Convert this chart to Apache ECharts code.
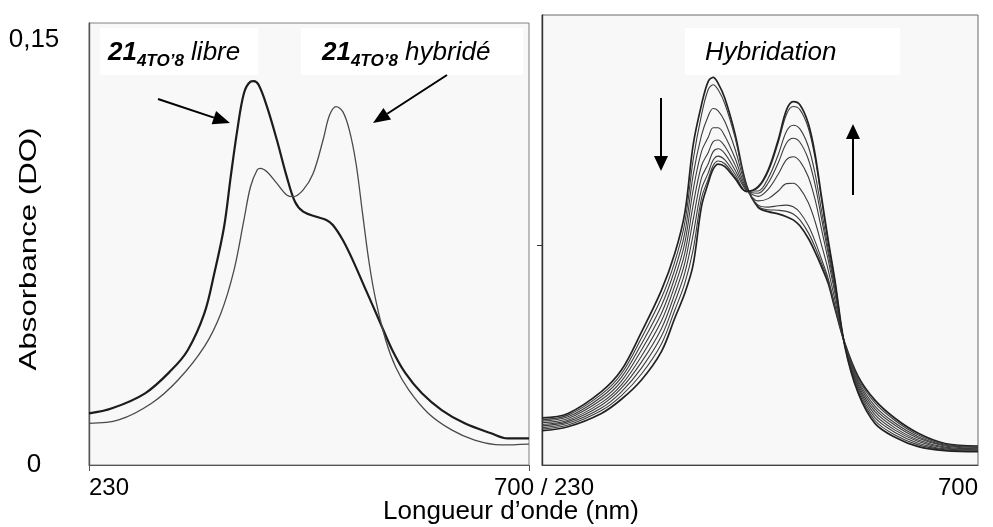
<!DOCTYPE html>
<html lang="fr">
<head>
<meta charset="UTF-8">
<title>Spectres UV-visible 21 4TO'8</title>
<script src="https://cdn.jsdelivr.net/npm/echarts@6/dist/echarts.min.js"></script>
<style>
    html, body { margin: 0; padding: 0; background: #fff; }
    #chart { width: 993px; height: 527px; }
</style>
</head>
<body>
<div id="chart"></div>
<script>
// graduations
var xTicks = [230, 700];
var yTicks = [0, 0.15];

// panneau gauche : 21 4TO'8 libre
var libreNm = [230.0, 254.6, 289.9, 318.0, 335.6, 353.2, 363.8, 374.3, 381.4, 388.4, 395.5, 402.5, 406.0, 411.3, 420.1, 430.7, 441.2, 450.0, 458.8, 472.9, 483.5, 490.5, 501.1, 511.6, 525.7, 539.8, 553.9, 568.0, 585.6, 606.7, 631.3, 659.5, 677.1, 700.0];
var libreAbs = [0.0182, 0.0200, 0.0253, 0.0335, 0.0406, 0.0535, 0.0676, 0.0841, 0.1018, 0.1182, 0.1312, 0.1353, 0.1355, 0.1341, 0.1265, 0.1147, 0.1018, 0.0929, 0.0894, 0.0876, 0.0865, 0.0847, 0.0794, 0.0724, 0.0618, 0.0512, 0.0406, 0.0324, 0.0253, 0.0194, 0.0147, 0.0112, 0.0094, 0.0094];

// panneau gauche : 21 4TO'8 hybridé
var hybNm = [230.0, 261.7, 296.9, 325.1, 353.2, 370.8, 384.9, 395.5, 402.5, 409.6, 413.1, 420.1, 430.7, 441.2, 448.3, 458.8, 469.4, 480.0, 487.0, 494.0, 501.1, 508.1, 515.2, 522.2, 529.3, 536.3, 546.9, 557.4, 571.5, 592.6, 617.3, 641.9, 670.1, 700.0];
var hybAbs = [0.0147, 0.0159, 0.0218, 0.0300, 0.0418, 0.0535, 0.0688, 0.0865, 0.0982, 0.1041, 0.1047, 0.1035, 0.0994, 0.0953, 0.0947, 0.0971, 0.1029, 0.1147, 0.1235, 0.1265, 0.1247, 0.1182, 0.1065, 0.0888, 0.0712, 0.0582, 0.0441, 0.0347, 0.0265, 0.0182, 0.0124, 0.0088, 0.0071, 0.0074];

// panneau droit : suivi de l'hybridation (9 spectres)
var titrNm = [230, 258.0, 294.0, 315.6, 337.2, 358.7, 373.1, 383.9, 392.9, 401.9, 409.1, 414.5, 419.9, 427.1, 437.9, 450.4, 463.0, 473.8, 484.6, 493.6, 500.8, 508.0, 517.0, 524.2, 531.3, 538.5, 545.7, 556.5, 570.9, 588.9, 610.5, 635.6, 664.4, 700];
var spectre1 = [0.0166, 0.0182, 0.0259, 0.0335, 0.0469, 0.0616, 0.0746, 0.0889, 0.1129, 0.1271, 0.1353, 0.1368, 0.1347, 0.1294, 0.1171, 0.0988, 0.0909, 0.0894, 0.0886, 0.0876, 0.0865, 0.0844, 0.0800, 0.0753, 0.0700, 0.0641, 0.0553, 0.0429, 0.0312, 0.0229, 0.0165, 0.0112, 0.0076, 0.0067];
var spectre2 = [0.0160, 0.0176, 0.0249, 0.0322, 0.0448, 0.0589, 0.0717, 0.0854, 0.1076, 0.1235, 0.1324, 0.1342, 0.1324, 0.1275, 0.1158, 0.0986, 0.0913, 0.0901, 0.0899, 0.0895, 0.0886, 0.0865, 0.0820, 0.0770, 0.0712, 0.0649, 0.0558, 0.0428, 0.0305, 0.0219, 0.0157, 0.0106, 0.0073, 0.0064];
var spectre3 = [0.0155, 0.0170, 0.0240, 0.0309, 0.0427, 0.0562, 0.0689, 0.0818, 0.1023, 0.1163, 0.1231, 0.1258, 0.1250, 0.1212, 0.1117, 0.0980, 0.0917, 0.0910, 0.0915, 0.0917, 0.0911, 0.0891, 0.0845, 0.0791, 0.0727, 0.0658, 0.0564, 0.0426, 0.0297, 0.0208, 0.0148, 0.0100, 0.0070, 0.0062];
var spectre4 = [0.0149, 0.0164, 0.0230, 0.0296, 0.0406, 0.0535, 0.0660, 0.0783, 0.0970, 0.1106, 0.1156, 0.1190, 0.1190, 0.1161, 0.1084, 0.0975, 0.0932, 0.0940, 0.0967, 0.0993, 0.0994, 0.0976, 0.0926, 0.0861, 0.0777, 0.0688, 0.0584, 0.0425, 0.0290, 0.0198, 0.0140, 0.0094, 0.0067, 0.0059];
var spectre5 = [0.0143, 0.0158, 0.0220, 0.0283, 0.0384, 0.0508, 0.0632, 0.0747, 0.0917, 0.1056, 0.1102, 0.1141, 0.1147, 0.1125, 0.1060, 0.0972, 0.0948, 0.0973, 0.1026, 0.1078, 0.1088, 0.1072, 0.1017, 0.0939, 0.0832, 0.0723, 0.0607, 0.0423, 0.0282, 0.0188, 0.0131, 0.0088, 0.0063, 0.0057];
var spectre6 = [0.0138, 0.0153, 0.0211, 0.0271, 0.0363, 0.0481, 0.0603, 0.0712, 0.0865, 0.1013, 0.1062, 0.1106, 0.1116, 0.1099, 0.1042, 0.0969, 0.0959, 0.0995, 0.1066, 0.1136, 0.1153, 0.1139, 0.1080, 0.0992, 0.0870, 0.0747, 0.0622, 0.0422, 0.0275, 0.0178, 0.0123, 0.0083, 0.0060, 0.0054];
var spectre7 = [0.0132, 0.0147, 0.0201, 0.0258, 0.0342, 0.0454, 0.0575, 0.0677, 0.0812, 0.0973, 0.1030, 0.1076, 0.1090, 0.1077, 0.1028, 0.0967, 0.0967, 0.1012, 0.1095, 0.1178, 0.1199, 0.1186, 0.1125, 0.1031, 0.0898, 0.0763, 0.0633, 0.0421, 0.0268, 0.0167, 0.0115, 0.0077, 0.0057, 0.0052];
var spectre8 = [0.0127, 0.0141, 0.0192, 0.0245, 0.0321, 0.0427, 0.0546, 0.0641, 0.0759, 0.0941, 0.1008, 0.1057, 0.1073, 0.1063, 0.1018, 0.0966, 0.0979, 0.1035, 0.1137, 0.1238, 0.1265, 0.1254, 0.1190, 0.1086, 0.0937, 0.0788, 0.0649, 0.0419, 0.0260, 0.0157, 0.0106, 0.0071, 0.0054, 0.0049];
var spectre9 = [0.0121, 0.0135, 0.0182, 0.0232, 0.0300, 0.0400, 0.0518, 0.0606, 0.0706, 0.0912, 0.0994, 0.1044, 0.1062, 0.1053, 0.1012, 0.0965, 0.0982, 0.1041, 0.1147, 0.1253, 0.1282, 0.1271, 0.1206, 0.1100, 0.0947, 0.0794, 0.0653, 0.0418, 0.0253, 0.0147, 0.0098, 0.0065, 0.0051, 0.0047];

var spectres = [spectre1, spectre2, spectre3, spectre4, spectre5, spectre6, spectre7, spectre8, spectre9];

var police = 'Liberation Sans, Arial, sans-serif';

function paires(xs, ys) {
    var out = [];
    for (var i = 0; i < xs.length; i++) {
        out.push([xs[i], ys[i]]);
    }
    return out;
}

// fleche = trait + triangle plein
function fleche(x1, y1, x2, y2, tete, demi) {
    var dx = x2 - x1, dy = y2 - y1;
    var len = Math.sqrt(dx * dx + dy * dy);
    var ux = dx / len, uy = dy / len;
    var bx = x2 - ux * tete, by = y2 - uy * tete;
    return [
        {type: 'line', z: 100, shape: {x1: x1, y1: y1, x2: bx, y2: by}, style: {stroke: '#000', lineWidth: 2}},
        {type: 'polygon', z: 100, shape: {points: [[x2, y2], [bx - uy * demi, by + ux * demi], [bx + uy * demi, by - ux * demi]]}, style: {fill: '#000'}}
    ];
}

var richTitre = {
    n: {fontSize: 26, fontWeight: 'bold', fontStyle: 'italic', fontFamily: police, lineHeight: 34},
    s: {fontSize: 17, fontWeight: 'bold', fontStyle: 'italic', fontFamily: police, lineHeight: 17, verticalAlign: 'bottom'},
    t: {fontSize: 26, fontStyle: 'italic', fontFamily: police, lineHeight: 34}
};

var series = [
    {
        name: '21 4TO\'8 libre', type: 'line', xAxisIndex: 0, yAxisIndex: 0,
        data: paires(libreNm, libreAbs), smooth: 0.35, showSymbol: false,
        lineStyle: {color: '#1c1c1c', width: 2.2}
    },
    {
        name: '21 4TO\'8 hybridé', type: 'line', xAxisIndex: 0, yAxisIndex: 0,
        data: paires(hybNm, hybAbs), smooth: 0.35, showSymbol: false,
        lineStyle: {color: '#4a4a4a', width: 1.3}
    }
];
for (var k = 0; k < spectres.length; k++) {
    var bord = (k === 0 || k === spectres.length - 1);
    series.push({
        name: 'Spectre ' + (k + 1), type: 'line', xAxisIndex: 1, yAxisIndex: 1,
        data: paires(titrNm, spectres[k]), smooth: 0.35, showSymbol: false,
        lineStyle: {color: bord ? '#222' : '#3c3c3c', width: bord ? 1.7 : 1.1}
    });
}

var graphics = [
    // cadres blancs des annotations
    {type: 'rect', z: 90, shape: {x: 100, y: 28, width: 158, height: 47}, style: {fill: '#fff'}},
    {type: 'rect', z: 90, shape: {x: 301, y: 28, width: 222, height: 47}, style: {fill: '#fff'}},
    {type: 'rect', z: 90, shape: {x: 685, y: 28, width: 215, height: 47}, style: {fill: '#fff'}},
    {type: 'text', z: 100, x: 108, y: 53, style: {text: '{n|21}{s|4TO’8}{t| libre}', rich: richTitre, fill: '#000', verticalAlign: 'middle'}},
    {type: 'text', z: 100, x: 322, y: 53, style: {text: '{n|21}{s|4TO’8}{t| hybridé}', rich: richTitre, fill: '#000', verticalAlign: 'middle'}},
    {type: 'text', z: 100, x: 705, y: 53, style: {text: 'Hybridation', font: 'italic 26px ' + police, fill: '#000', verticalAlign: 'middle'}},
    // titres des axes
    {type: 'text', z: 100, x: 511, y: 512, style: {text: 'Longueur d’onde (nm)', font: '26px ' + police, fill: '#000', align: 'center', verticalAlign: 'middle'}},
    {type: 'text', z: 100, x: 29, y: 249, rotation: Math.PI / 2, scaleX: 1.3, style: {text: 'Absorbance (DO)', font: '24px ' + police, fill: '#000', align: 'center', verticalAlign: 'middle'}}
];
graphics = graphics
    .concat(fleche(158, 99, 230, 123, 17, 7))
    .concat(fleche(447, 75, 373, 123, 17, 7))
    .concat(fleche(661, 98, 661, 171, 15, 7))
    .concat(fleche(853, 195, 853, 124, 15, 7));

var option = {
    animation: false,
    backgroundColor: '#fff',
    grid: [
        {left: 89, top: 23, width: 440, bottom: 62, show: true, backgroundColor: '#f8f8f8', borderColor: '#808080', borderWidth: 1, containLabel: false, outerBoundsMode: 'none'},
        {left: 542, top: 15, width: 436, bottom: 62, show: true, backgroundColor: '#f8f8f8', borderColor: '#6a6a6a', borderWidth: 1, containLabel: false, outerBoundsMode: 'none'}
    ],
    xAxis: [
        {
            type: 'value', gridIndex: 0, min: 230, max: 700,
            splitLine: {show: false},
            axisLine: {show: true, lineStyle: {color: '#555', width: 1.2}},
            axisTick: {show: true, customValues: xTicks, length: 6, lineStyle: {color: '#555'}},
            axisLabel: {
                customValues: xTicks, margin: 11, fontSize: 24, fontFamily: police, color: '#000',
                alignMinLabel: 'left',
                formatter: function (v) { return v === 700 ? '{m|700 / 230}' : String(v); },
                rich: {m: {fontSize: 24, fontFamily: police, color: '#000', padding: [0, 0, 0, 30]}}
            }
        },
        {
            type: 'value', gridIndex: 1, min: 230, max: 700,
            splitLine: {show: false},
            axisLine: {show: true, lineStyle: {color: '#444', width: 1.2}},
            axisTick: {show: false},
            axisLabel: {
                customValues: [xTicks[1]], margin: 11, fontSize: 24, fontFamily: police, color: '#000',
                align: 'right'
            }
        }
    ],
    yAxis: [
        {
            type: 'value', gridIndex: 0, min: 0, max: 0.156,
            splitLine: {show: false},
            axisLine: {show: true, lineStyle: {color: '#555', width: 1.4}},
            axisTick: {show: false},
            axisLabel: {
                customValues: yTicks, margin: 55, align: 'center', fontSize: 26, fontFamily: police, color: '#000',
                formatter: function (v) { return String(v).replace('.', ','); }
            }
        },
        {
            type: 'value', gridIndex: 1, min: 0, max: 0.1588,
            splitLine: {show: false},
            axisLine: {show: true, lineStyle: {color: '#333', width: 1.4}},
            axisTick: {show: true, customValues: [0.0776], length: 5, lineStyle: {color: '#333'}},
            axisLabel: {show: false}
        }
    ],
    series: series,
    graphic: graphics
};

var chart = echarts.init(document.getElementById('chart'));
chart.setOption(option);
</script>
</body>
</html>
